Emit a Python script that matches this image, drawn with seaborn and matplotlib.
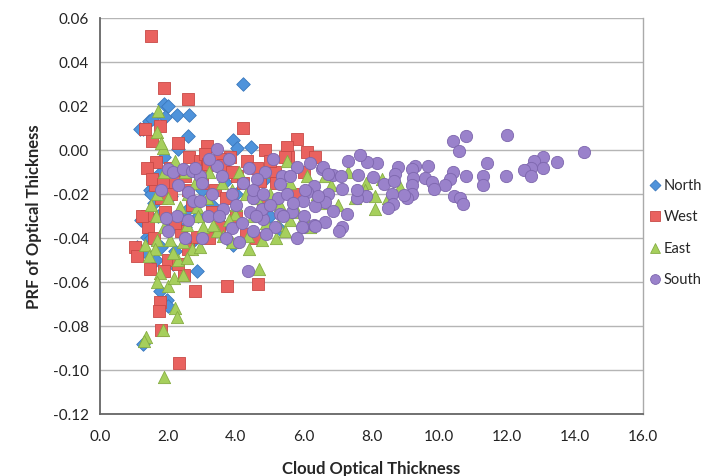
import matplotlib
matplotlib.use("Agg")
import matplotlib.pyplot as plt
import seaborn as sns
import pandas as pd

# ---------------- data ----------------
north_x = [4.2, 1.9, 2.0, 1.27, 1.44, 1.53, 1.91, 2.27, 2.62, 2.6, 1.18, 3.92, 4.03, 4.45, 1.89, 2.3,
           3.68, 1.47, 4.86, 1.38, 1.5, 1.7, 2.5, 2.2, 1.6, 2.9, 3.3, 2.1, 1.3, 1.5, 2.0, 3.0, 2.4,
           1.8, 2.7, 3.6, 4.0, 4.6, 5.0, 5.3, 2.3, 3.5, 1.1, 1.65, 1.77, 1.98, 2.0, 1.27, 2.85,
           3.92, 2.15, 1.75, 2.6, 1.2]
north_y = [0.030, 0.021, 0.020, 0.0095, 0.013, 0.014, 0.015, 0.016, 0.016, 0.0065, 0.0095, 0.0045,
           0.001, 0.0013, -0.003, 0.0005, -0.0145, -0.018, -0.013, -0.0395, -0.040, -0.030, -0.035,
           -0.046, -0.024, -0.030, -0.025, -0.021, -0.046, -0.020, -0.036, -0.018, -0.028, -0.044,
           -0.042, -0.034, -0.020, -0.020, -0.030, -0.036, -0.010, -0.008, -0.044, -0.050, -0.064,
           -0.068, -0.071, -0.088, -0.055, -0.043, -0.052, -0.011, -0.027, -0.032]

west_x = [1.5, 1.9, 2.6, 4.2, 1.33, 1.77, 1.52, 2.3, 3.15, 5.8, 4.86, 5.5, 5.55, 6.1, 6.33, 3.83,
          2.62, 1.65, 1.39, 2.95, 4.33, 4.03, 4.2, 3.15, 4.63, 5.16, 5.45, 1.03, 1.08, 1.38, 1.92,
          1.47, 2.0, 2.48, 2.8, 3.74, 4.66, 1.77, 1.74, 1.8, 2.33, 1.42, 1.62, 2.4, 2.85, 3.1,
          2.95, 3.18, 1.53, 1.86, 2.2, 2.6, 3.54, 3.62, 2.1, 2.5, 3.0, 3.4, 2.7, 1.8, 3.7, 2.2,
          3.3, 4.0, 4.5, 5.2, 4.8, 3.5, 1.6, 2.6, 4.3, 5.8, 6.0, 1.25, 2.05, 3.9, 4.7, 5.0, 2.3,
          1.9, 4.6, 3.2]
west_y = [0.052, 0.028, 0.023, 0.010, 0.0095, 0.011, 0.004, 0.003, 0.002, 0.005, 0.000, 0.0013,
          -0.003, -0.001, -0.003, -0.003, -0.003, -0.0055, -0.008, -0.005, -0.005, -0.012, -0.015,
          -0.007, -0.008, -0.010, -0.003, -0.044, -0.048, -0.030, -0.028, -0.054, -0.050, -0.057,
          -0.064, -0.062, -0.061, -0.069, -0.073, -0.082, -0.097, -0.035, -0.016, -0.037, -0.0395,
          -0.002, -0.0095, -0.0064, -0.013, -0.0155, -0.0145, -0.018, -0.004, -0.007, -0.020,
          -0.012, -0.015, -0.018, -0.025, -0.022, -0.022, -0.033, -0.028, -0.030, -0.020, -0.015,
          -0.025, -0.035, -0.040, -0.045, -0.038, -0.020, -0.010, -0.030, -0.008, -0.010, -0.014,
          -0.005, -0.052, -0.055, -0.040, -0.040]

east_x = [1.9, 1.35, 1.3, 1.86, 2.2, 2.27, 1.77, 1.68, 2.0, 2.18, 2.45, 4.4, 4.68, 1.71, 1.68, 1.86,
          5.5, 8.1, 8.1, 7.3, 7.85, 7.5, 8.84, 6.1, 1.68, 2.0, 1.65, 2.36, 2.85, 3.15, 3.03, 3.45,
          3.62, 3.33, 2.57, 2.06, 1.68, 1.33, 2.45, 2.71, 2.3, 2.57, 2.95, 1.62, 6.63, 4.63, 3.89,
          3.98, 5.24, 5.45, 4.77, 4.36, 4.0, 4.5, 5.0, 5.3, 5.8, 6.4, 6.8, 7.0, 5.6, 4.8, 3.6, 3.2,
          2.8, 2.2, 2.5, 1.9, 5.2, 3.8, 6.0, 1.5, 1.9, 2.6, 3.9, 4.3, 5.6, 6.6, 7.8, 8.5, 1.8, 2.15,
          1.45, 2.9, 3.5, 4.1, 4.9, 6.2, 8.3]
east_y = [-0.103, -0.085, -0.087, -0.082, -0.072, -0.076, -0.056, -0.060, -0.062, -0.058, -0.057,
          -0.045, -0.054, 0.0177, 0.008, 0.001, -0.005, -0.027, -0.021, -0.010, -0.015, -0.022,
          -0.017, -0.012, -0.020, -0.022, -0.030, -0.026, -0.026, -0.022, -0.035, -0.037, -0.039,
          -0.034, -0.034, -0.041, -0.041, -0.043, -0.042, -0.045, -0.050, -0.049, -0.044, -0.045,
          -0.012, -0.022, -0.018, -0.029, -0.034, -0.037, -0.041, -0.039, -0.025, -0.030, -0.020,
          -0.025, -0.028, -0.020, -0.016, -0.025, -0.015, -0.010, -0.015, -0.010, -0.015, -0.005,
          -0.010, -0.010, -0.040, -0.032, -0.030, -0.025, -0.035, -0.020, -0.042, -0.020, -0.032,
          -0.024, -0.018, -0.022, 0.003, -0.047, -0.048, -0.030, -0.028, -0.010, -0.033, -0.035,
          -0.013]

south_x = [14.26, 12.0, 10.78, 10.4, 10.58, 13.46, 13.06, 12.8, 13.06, 12.7, 12.5, 12.7, 11.96, 11.4,
           11.3, 11.3, 10.78, 10.4, 10.3, 10.17, 10.43, 10.6, 10.7, 9.67, 9.58, 9.78, 9.84, 9.28,
           9.19, 8.78, 8.7, 9.22, 9.19, 9.19, 9.04, 8.96, 8.6, 8.64, 8.49, 8.37, 8.66, 8.16, 7.87,
           7.66, 7.3, 8.05, 7.6, 7.84, 7.58, 7.58, 7.13, 6.87, 7.1, 6.54, 6.3, 6.1, 5.98, 6.72,
           6.63, 6.33, 6.87, 7.27, 6.63, 6.3, 5.98, 7.13, 7.04, 6.0, 4.36, 2.6, 2.74, 2.95, 2.27,
           2.6, 3.18, 2.0, 3.62, 3.45, 2.0, 2.15, 2.45, 2.7, 2.95, 3.45, 5.8, 5.36, 4.86, 4.63,
           5.3, 6.04, 6.57, 6.72, 4.5, 5.24, 6.42, 3.89, 4.18, 4.5, 4.8, 5.16, 5.3, 5.95, 6.33,
           4.42, 4.77, 5.66, 3.0, 3.3, 3.6, 3.9, 4.2, 4.0, 4.5, 4.8, 5.0, 5.5, 5.7, 5.4, 4.6, 3.5,
           3.7, 4.1, 2.3, 2.8, 3.2, 3.8, 4.4, 5.1, 5.6, 6.2, 2.5, 3.0, 4.9, 5.8, 1.8, 1.95]
south_y = [-0.001, 0.007, 0.0065, 0.004, -0.0005, -0.0055, -0.003, -0.005, -0.008, -0.008, -0.009,
           -0.012, -0.012, -0.006, -0.012, -0.016, -0.012, -0.010, -0.013, -0.016, -0.021, -0.022,
           -0.0245, -0.0072, -0.0127, -0.0145, -0.0178, -0.0072, -0.0087, -0.0077, -0.0111, -0.0127,
           -0.0159, -0.020, -0.022, -0.0205, -0.020, -0.0245, -0.0264, -0.0155, -0.0141, -0.0059,
           -0.0055, -0.0023, -0.005, -0.0123, -0.0114, -0.021, -0.022, -0.018, -0.0175, -0.0114,
           -0.0118, -0.0086, -0.0164, -0.019, -0.023, -0.020, -0.0236, -0.0254, -0.0277, -0.029,
           -0.0327, -0.034, -0.035, -0.035, -0.037, -0.030, -0.055, -0.019, -0.023, -0.023, -0.030,
           -0.032, -0.030, -0.037, -0.027, 0.0005, -0.0087, -0.010, -0.0087, -0.0095, -0.012,
           -0.0073, -0.0077, -0.012, -0.010, -0.013, -0.0155, -0.018, -0.0077, -0.011, -0.022,
           -0.022, -0.021, -0.0355, -0.033, -0.037, -0.0315, -0.035, -0.029, -0.035, -0.0345,
           -0.028, -0.027, -0.028, -0.015, -0.020, -0.012, -0.020, -0.015, -0.025, -0.018, -0.020,
           -0.025, -0.020, -0.024, -0.030, -0.030, -0.030, -0.040, -0.042, -0.016, -0.008, -0.004,
           -0.004, -0.008, -0.004, -0.012, -0.006, -0.040, -0.040, -0.038, -0.040, -0.018, -0.031]

series = ["North", "West", "East", "South"]
xs = [north_x, west_x, east_x, south_x]
ys = [north_y, west_y, east_y, south_y]

xticks = [0, 2, 4, 6, 8, 10, 12, 14, 16]
yticks = [-0.12, -0.10, -0.08, -0.06, -0.04, -0.02, 0.00, 0.02, 0.04, 0.06]

rows = []
for name, xv, yv in zip(series, xs, ys):
    for a, b in zip(xv, yv):
        rows.append({"x": a, "y": b, "Region": name})
df = pd.DataFrame(rows)

# ---------------- styling ----------------
sns.set_theme(style="white")
plt.rcParams["font.family"] = ["Lato", "DejaVu Sans"]

palette = {"North": "#4f93db", "West": "#e9625f", "East": "#a6cf5c", "South": "#9a82cb"}
markers = {"North": "D", "West": "s", "East": "^", "South": "o"}
edges = {"North": "#3a78bd", "West": "#c84a47", "East": "#86ad43", "South": "#7d66ad"}

fig = plt.figure(figsize=(7.07, 4.77), dpi=100)
ax = fig.add_axes([100 / 707, 1 - 415 / 477, 543 / 707, 396 / 477])

for name in series:
    sub = df[df["Region"] == name]
    sns.scatterplot(data=sub, x="x", y="y", color=palette[name], marker=markers[name],
                    s=48 if name == "North" else 78, edgecolor=edges[name], linewidth=0.6,
                    label=name, ax=ax, zorder=3)

ax.set_xlim(0, 16)
ax.set_ylim(-0.12, 0.06)
ax.set_xticks(xticks)
ax.set_yticks(yticks)
ax.set_xticklabels([f"{t:.1f}" for t in xticks], fontsize=11, color="#222222")
ax.set_yticklabels([f"{t:.2f}" for t in yticks], fontsize=11, color="#222222")
ax.yaxis.grid(True, color="#b5b5b5", linewidth=1.0, zorder=0)
ax.xaxis.grid(False)
ax.set_axisbelow(True)

for side in ["left", "bottom"]:
    ax.spines[side].set_color("#666666")
    ax.spines[side].set_linewidth(1.3)
ax.spines["right"].set_color("#aaaaaa")
ax.spines["right"].set_linewidth(1.0)
ax.spines["top"].set_visible(False)
ax.tick_params(axis="both", direction="in", length=5, width=1, color="#888888", pad=8)
ax.tick_params(axis="x", pad=11)

ax.set_xlabel("Cloud Optical Thickness", fontsize=12, fontweight="bold", labelpad=12)
ax.set_ylabel("PRF of Optical Thickness", fontsize=12, fontweight="bold", labelpad=8)

leg = ax.legend(loc="center left", bbox_to_anchor=(0.995, 0.46), frameon=False,
                fontsize=10.5, handletextpad=0.0, labelspacing=1.2, borderaxespad=0.0,
                handlelength=1.2, markerscale=0.8)

fig.savefig("out.png", dpi=100)
